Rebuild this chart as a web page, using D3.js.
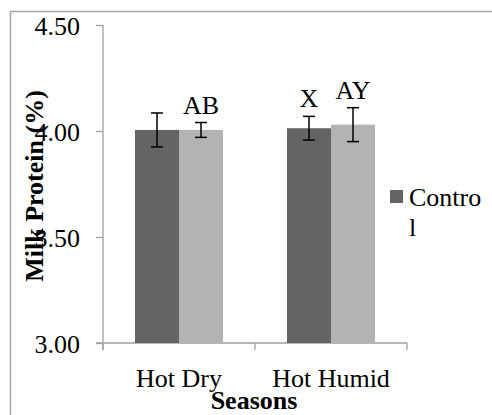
<!DOCTYPE html>
<html>
<head>
<meta charset="utf-8">
<script src="https://cdn.jsdelivr.net/npm/d3@7/dist/d3.min.js"></script>
<style>
  html, body { margin: 0; padding: 0; background: #fff; }
  svg text { font-family: "Liberation Serif", "Times New Roman", serif; }
</style>
</head>
<body>
<div id="chart"></div>
<script>
const categories = ["Hot Dry", "Hot Humid"];
const seriesNames = ["Control", "Treatment"];
const controlValues = [4.005, 4.013];
const treatmentValues = [4.005, 4.03];
const controlErrors = [0.08, 0.056];
const treatmentErrors = [0.035, 0.08];
const controlLabels = ["", "X"];
const treatmentLabels = ["AB", "AY"];
const yTicks = [3.0, 3.5, 4.0, 4.5];
const legendNames = ["Control"];

const W = 492, H = 415;
const svg = d3.select("#chart").append("svg").attr("width", W).attr("height", H);

// outer frame
svg.append("rect").attr("x", 10.5).attr("y", 11.5).attr("width", 600).attr("height", 600)
  .attr("fill", "none").attr("stroke", "#a6a6a6").attr("stroke-width", 1.5);

const plot = { left: 103, right: 407, top: 25, bottom: 343 };

const y = d3.scaleLinear().domain([3, 4.5]).range([plot.bottom, plot.top]);
const x0 = d3.scaleBand().domain(categories).range([plot.left, plot.right]).paddingInner(0).paddingOuter(0);
const x1 = d3.scaleBand().domain(seriesNames).range([32, x0.bandwidth() - 32]).padding(0);
const color = d3.scaleOrdinal().domain(seriesNames).range(["#646464", "#b3b3b3"]);

const data = categories.map((c, i) => ({
  cat: c,
  items: [
    { s: seriesNames[0], v: controlValues[i], e: controlErrors[i], l: controlLabels[i] },
    { s: seriesNames[1], v: treatmentValues[i], e: treatmentErrors[i], l: treatmentLabels[i] }
  ]
}));

// Y axis
const yAxis = d3.axisLeft(y).tickValues(yTicks).tickFormat(d3.format(".2f")).tickSize(7).tickPadding(16);
const gy = svg.append("g").attr("transform", `translate(${plot.left},0)`).call(yAxis);
gy.select(".domain").remove();
gy.selectAll(".tick line").attr("stroke", "#a0a0a0").attr("stroke-width", 1.3);
gy.selectAll(".tick text").attr("font-size", 26).attr("fill", "#000")
  .attr("font-family", "Liberation Serif").attr("dy", "0.35em");
svg.append("line").attr("x1", plot.left).attr("x2", plot.left)
  .attr("y1", y(4.5)).attr("y2", plot.bottom + 7).attr("stroke", "#a0a0a0").attr("stroke-width", 1.3);

// X axis
const xAxis = d3.axisBottom(x0).tickSize(0).tickPadding(26);
const gx = svg.append("g").attr("transform", `translate(0,${plot.bottom})`).call(xAxis);
gx.select(".domain").remove();
gx.selectAll(".tick text").attr("font-size", 26).attr("fill", "#000").attr("font-family", "Liberation Serif");
svg.append("line").attr("x1", plot.left - 7).attr("x2", plot.right)
  .attr("y1", plot.bottom).attr("y2", plot.bottom).attr("stroke", "#a0a0a0").attr("stroke-width", 1.3);
const boundaries = categories.map(c => x0(c)).concat([x0(categories[categories.length - 1]) + x0.bandwidth()]);
svg.selectAll(".xb").data(boundaries).enter().append("line")
  .attr("x1", d => d).attr("x2", d => d).attr("y1", plot.bottom).attr("y2", plot.bottom + 7)
  .attr("stroke", "#a0a0a0").attr("stroke-width", 1.3);

// Bars
const groups = svg.selectAll(".grp").data(data).enter().append("g")
  .attr("transform", d => `translate(${x0(d.cat)},0)`);
groups.selectAll("rect").data(d => d.items).enter().append("rect")
  .attr("x", d => x1(d.s)).attr("width", x1.bandwidth())
  .attr("y", d => y(d.v)).attr("height", d => y(3) - y(d.v))
  .attr("fill", d => color(d.s));

// Error bars
const cap = 6;
const eb = groups.selectAll(".eb").data(d => d.items).enter().append("g")
  .attr("stroke", "#000").attr("stroke-width", 1.5);
eb.append("line").attr("x1", d => x1(d.s) + x1.bandwidth() / 2).attr("x2", d => x1(d.s) + x1.bandwidth() / 2)
  .attr("y1", d => y(d.v + d.e)).attr("y2", d => y(d.v - d.e));
eb.append("line").attr("x1", d => x1(d.s) + x1.bandwidth() / 2 - cap).attr("x2", d => x1(d.s) + x1.bandwidth() / 2 + cap)
  .attr("y1", d => y(d.v + d.e)).attr("y2", d => y(d.v + d.e));
eb.append("line").attr("x1", d => x1(d.s) + x1.bandwidth() / 2 - cap).attr("x2", d => x1(d.s) + x1.bandwidth() / 2 + cap)
  .attr("y1", d => y(d.v - d.e)).attr("y2", d => y(d.v - d.e));

// Significance labels
groups.selectAll(".lbl").data(d => d.items.filter(it => it.l)).enter().append("text")
  .attr("x", d => x1(d.s) + x1.bandwidth() / 2)
  .attr("y", d => y(d.v + d.e) - 9)
  .attr("text-anchor", "middle").attr("font-size", 26).attr("fill", "#000")
  .text(d => d.l);

// Axis titles
svg.append("text").attr("transform", "translate(43,186) rotate(-90)")
  .attr("text-anchor", "middle").attr("font-size", 26).attr("font-weight", "bold").text("Milk Protein (%)");
svg.append("text").attr("x", 254).attr("y", 409)
  .attr("text-anchor", "middle").attr("font-size", 26).attr("font-weight", "bold").text("Seasons");

// Legend
const lg = svg.append("g").attr("transform", "translate(390,190)");
lg.selectAll("rect").data(legendNames).enter().append("rect")
  .attr("x", 0).attr("y", 0).attr("width", 13).attr("height", 13).attr("fill", d => color(d));
const lt = lg.append("text").attr("x", 19).attr("y", 16).attr("font-size", 26).attr("fill", "#000");
lt.append("tspan").attr("x", 19).attr("y", 16).text("Contro");
lt.append("tspan").attr("x", 19).attr("y", 46).text("l");
</script>
</body>
</html>
